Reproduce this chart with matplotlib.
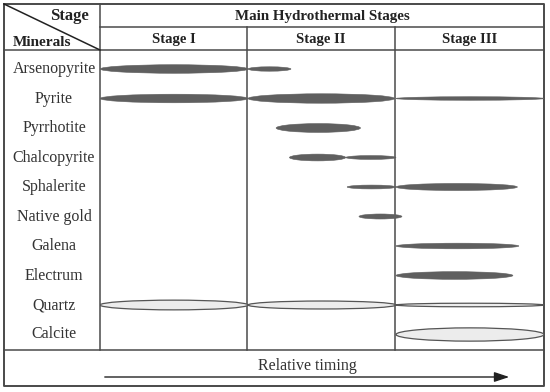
import matplotlib.pyplot as plt
from matplotlib.patches import Ellipse

# minerals (rows) and stage headings
minerals = ['Arsenopyrite', 'Pyrite', 'Pyrrhotite', 'Chalcopyrite', 'Sphalerite',
            'Native gold', 'Galena', 'Electrum', 'Quartz', 'Calcite']
stages = ['Stage I', 'Stage II', 'Stage III']

# timing segments per mineral: (start, end) in stage units, thickness, kind
arsenopyrite = [(0.0, 1.0, 0.29, 'd'), (1.0, 1.29, 0.15, 'd')]
pyrite = [(0.0, 1.0, 0.29, 'd'), (1.0, 1.99, 0.32, 'd'), (2.0, 3.0, 0.12, 'd')]
pyrrhotite = [(1.19, 1.76, 0.3, 'd')]
chalcopyrite = [(1.28, 1.66, 0.23, 'd'), (1.66, 2.0, 0.13, 'd')]
sphalerite = [(1.67, 2.0, 0.13, 'd'), (2.0, 2.82, 0.24, 'd')]
native_gold = [(1.75, 2.04, 0.17, 'd')]
galena = [(2.0, 2.83, 0.19, 'd')]
electrum = [(2.0, 2.79, 0.26, 'd')]
quartz = [(0.0, 1.0, 0.33, 'l'), (1.0, 2.0, 0.27, 'l'), (2.0, 3.0, 0.12, 'l')]
calcite = [(2.0, 3.0, 0.45, 'l')]
segments = [arsenopyrite, pyrite, pyrrhotite, chalcopyrite, sphalerite,
            native_gold, galena, electrum, quartz, calcite]

W, H = 550, 392
fig = plt.figure(figsize=(5.5, 3.92), dpi=100)
ax = fig.add_axes([0, 0, 1, 1])
ax.set_xlim(0, W)
ax.set_ylim(H, 0)
ax.axis('off')

lc = '#4a4a4a'
serif = ['Liberation Serif', 'DejaVu Serif']

# frame (pixel layout)
L, R, T, B = 4, 544, 4, 386
xm, xs1, xs2 = 100, 247, 395
yh1, yh2, yb = 27, 50, 350
ax.plot([L, R, R, L, L], [T, T, B, B, T], color=lc, lw=1.4)
ax.plot([L, R], [yh2, yh2], color=lc, lw=1.1)
ax.plot([xm, R], [yh1, yh1], color=lc, lw=1.1)
ax.plot([L, R], [yb, yb], color=lc, lw=1.1)
ax.plot([xm, xm], [T, yb], color=lc, lw=1.1)
for xv in (xs1, xs2):
    ax.plot([xv, xv], [yh1, yb], color=lc, lw=1.1)
ax.plot([L, xm], [T, yh2], color='#222222', lw=1.1)

ax.text(69, 16, 'Stage', fontsize=12, fontweight='bold', family=serif,
        ha='center', va='center', color='#222222')
ax.text(42, 42, 'Minerals', fontsize=11, fontweight='bold', family=serif,
        ha='center', va='center', color='#222222')
ax.text((xm + R) / 2, 16, 'Main Hydrothermal Stages', fontsize=10.8, fontweight='bold',
        family=serif, ha='center', va='center', color='#222222')
xb = [xm, xs1, xs2, R]
for i, s in enumerate(stages):
    ax.text((xb[i] + xb[i + 1]) / 2, 39, s, fontsize=10.5, fontweight='bold', family=serif,
            ha='center', va='center', color='#222222')

row0, drow = 69, 29.5
for i, m in enumerate(minerals):
    ax.text(54, row0 + i * drow, m, fontsize=11.5, family=serif,
            ha='center', va='center', color='#333333')

ax.text(307, 366, 'Relative timing', fontsize=11.5, family=serif,
        ha='center', va='center', color='#333333')
ax.annotate('', xy=(512, 377), xytext=(102, 377),
            arrowprops=dict(arrowstyle='-|>,head_length=0.9,head_width=0.3',
                            color='#222222', lw=1.0))

# body axes in stage / row units
bx = fig.add_axes([xm / W, 1 - yb / H, (R - xm) / W, (yb - yh2) / H])
bx.set_xlim(0, 3)
bx.set_ylim((yb - row0) / drow, (yh2 - row0) / drow)
bx.axis('off')
for i, segs in enumerate(segments):
    for x0, x1, h, kind in segs:
        if kind == 'd':
            e = Ellipse(((x0 + x1) / 2, i), x1 - x0, h, facecolor='#5f5f5f',
                        edgecolor='#5f5f5f', lw=0.4)
        else:
            e = Ellipse(((x0 + x1) / 2, i), x1 - x0, h, facecolor='#ececec',
                        edgecolor='#555555', lw=0.9)
        bx.add_patch(e)

fig.savefig('out.png', dpi=100)
